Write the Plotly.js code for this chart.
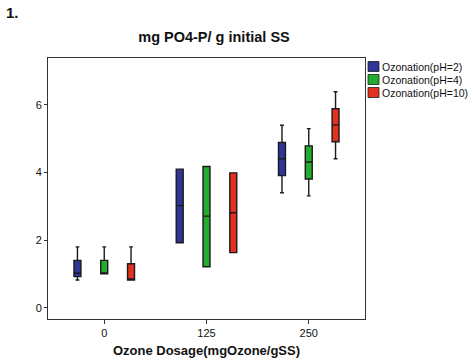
<!DOCTYPE html>
<html>
<head>
<meta charset="utf-8">
<script src="https://cdn.plot.ly/plotly-3.0.1.min.js"></script>
<style>
  html, body { margin: 0; padding: 0; background: #fff; }
  #chart { width: 473px; height: 363px; }
</style>
</head>
<body>
<div id="chart"></div>
<script>
// Ozone dosage groups (mgOzone/gSS)
const dosages = ['0', '125', '250'];

// Series: ozonation at three pH levels
const seriesNames = ['Ozonation(pH=2)', 'Ozonation(pH=4)', 'Ozonation(pH=10)'];
const seriesColors = ['#2f3596', '#22ad2e', '#e33020'];

// Box statistics per series (mg PO4-P / g initial SS), one value per dosage
const lowerFence = [
  [0.82, 1.92, 3.40],
  [1.00, 1.21, 3.31],
  [0.82, 1.63, 4.41]
];
const q1 = [
  [0.92, 1.92, 3.91],
  [1.00, 1.21, 3.81],
  [0.82, 1.63, 4.91]
];
const median = [
  [1.02, 3.02, 4.41],
  [1.00, 2.71, 4.31],
  [0.82, 2.81, 5.41]
];
const q3 = [
  [1.40, 4.10, 4.89],
  [1.40, 4.18, 4.79],
  [1.30, 3.99, 5.89]
];
const upperFence = [
  [1.80, 4.10, 5.40],
  [1.80, 4.18, 5.30],
  [1.80, 3.99, 6.39]
];

const yTicks = [0, 2, 4, 6];

const traces = seriesNames.map((name, i) => ({
  type: 'box',
  name: name,
  x: dosages,
  q1: q1[i],
  median: median[i],
  q3: q3[i],
  lowerfence: lowerFence[i],
  upperfence: upperFence[i],
  fillcolor: seriesColors[i],
  line: { color: '#1a1a1a', width: 1.4 },
  whiskerwidth: 0.55,
  boxpoints: false,
  hoverinfo: 'skip',
  showlegend: false
}));

// Plot area in pixels (used to place the side legend)
const M = { l: 48, r: 108, t: 58, b: 44 };
const W = 473, H = 363;
const plotW = W - M.l - M.r, plotH = H - M.t - M.b;
const px2x = px => (px - M.l) / plotW;
const py2y = py => (H - M.b - py) / plotH;

// Side legend: colour swatch + label per series
const shapes = [];
const annotations = [];
seriesNames.forEach((name, i) => {
  const cy = 66.5 + i * 13;
  shapes.push({
    type: 'rect', xref: 'paper', yref: 'paper',
    x0: px2x(368), x1: px2x(379), y0: py2y(cy - 5), y1: py2y(cy + 5),
    fillcolor: seriesColors[i], line: { color: '#1e1e1e', width: 0.8 }
  });
  annotations.push({
    xref: 'paper', yref: 'paper', x: px2x(380), y: py2y(cy),
    xanchor: 'left', yanchor: 'middle', showarrow: false,
    text: name, font: { family: 'Liberation Sans, Arial, sans-serif', size: 10.5, color: '#111' }
  });
});

// Panel label
annotations.push({
  xref: 'paper', yref: 'paper', x: px2x(4), y: py2y(12),
  xanchor: 'left', yanchor: 'middle', showarrow: false,
  text: '<b>1.</b>', font: { family: 'Liberation Sans, Arial, sans-serif', size: 15, color: '#111' }
});

const layout = {
  width: W, height: H,
  margin: M,
  paper_bgcolor: '#fff', plot_bgcolor: '#fff',
  font: { family: 'Liberation Sans, Arial, sans-serif', color: '#111' },
  title: {
    text: '<b>mg PO4-P/ g initial SS</b>',
    font: { size: 14.5, color: '#111' },
    xref: 'container', yref: 'container',
    x: 214 / W, y: 1 - 37 / H, xanchor: 'center', yanchor: 'middle'
  },
  boxmode: 'group',
  boxgap: 0.214,
  boxgroupgap: 0.74,
  xaxis: {
    type: 'category',
    categoryorder: 'array', categoryarray: dosages,
    range: [-0.55, 2.55],
    showgrid: false, zeroline: false,
    showline: true, mirror: true, linecolor: '#333', linewidth: 1,
    ticks: 'outside', ticklen: 4, tickcolor: '#333',
    tickfont: { size: 11, color: '#111' },
    title: {
      text: '<b>Ozone Dosage(mgOzone/gSS)</b>',
      font: { size: 13, color: '#111' },
      standoff: 7
    }
  },
  yaxis: {
    range: [-0.335, 7.39],
    tickvals: yTicks,
    showgrid: false, zeroline: false,
    showline: true, mirror: true, linecolor: '#333', linewidth: 1,
    ticks: 'outside', ticklen: 3, tickcolor: '#333',
    tickfont: { size: 11, color: '#111' }
  },
  shapes: shapes,
  annotations: annotations,
  showlegend: false
};

Plotly.newPlot('chart', traces, layout, { displayModeBar: false, staticPlot: true });
</script>
</body>
</html>
